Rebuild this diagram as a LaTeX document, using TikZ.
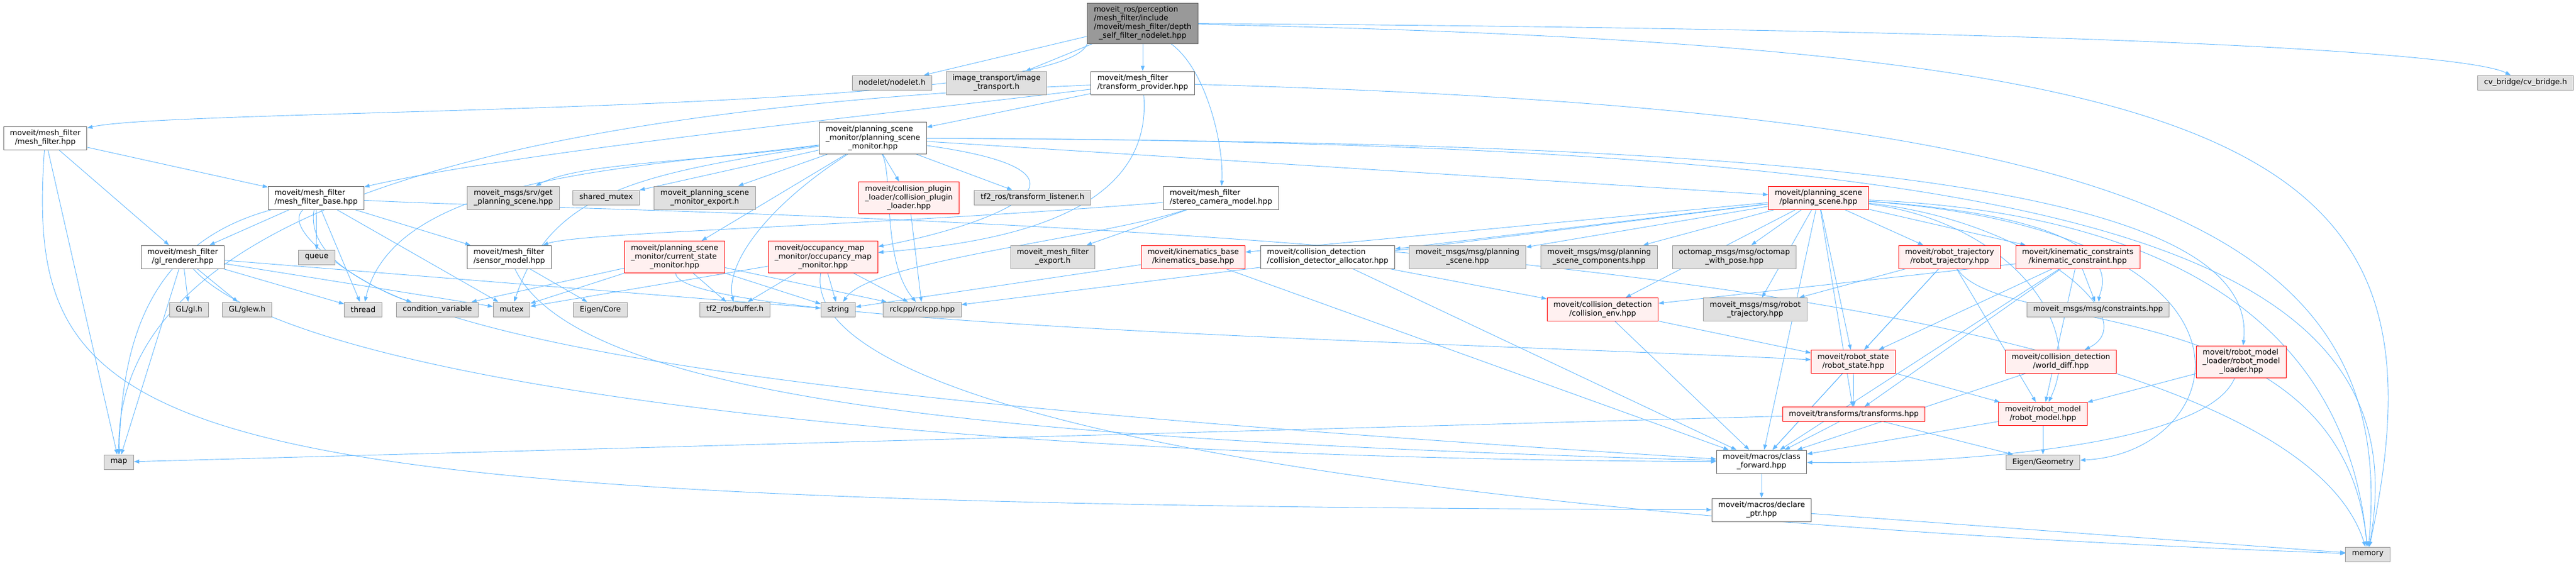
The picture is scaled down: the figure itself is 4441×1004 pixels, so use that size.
\documentclass[tikz,border=0pt]{standalone}
\usepackage{fontspec}
\setmainfont{DejaVu Sans}
\usetikzlibrary{arrows.meta}
\definecolor{edgeblue}{HTML}{63B8FF}
\definecolor{docline}{HTML}{666666}
\definecolor{extfill}{HTML}{E0E0E0}
\definecolor{extline}{HTML}{999999}
\definecolor{redfill}{HTML}{FFF0F0}
\definecolor{rootfill}{HTML}{999999}
\pgfdeclarelayer{edges}
\pgfsetlayers{edges,main}
% left lines, then a centred last line
\newcommand{\flbl}[2]{\begin{tabular}{@{}l@{}}#1\\\multicolumn{1}{@{}c@{}}{#2}\end{tabular}}
\begin{document}
\begin{tikzpicture}[x=1pt,y=-1pt,line join=round,>={Triangle[length=9pt,width=6.5pt]},
    font=\fontsize{13}{15}\selectfont,
    filebox/.style={draw,line width=1pt,inner xsep=11pt,inner ysep=5pt,minimum height=25pt},
    docbox/.style={filebox,draw=docline,fill=white},
    extbox/.style={filebox,draw=extline,fill=extfill},
    redbox/.style={filebox,draw=red,fill=redfill},
    rootbox/.style={filebox,draw=docline,fill=rootfill},
    dep/.style={->,draw=edgeblue,line width=0.9pt}]
\useasboundingbox (0,0) rectangle (4441,1004);
\node[rootbox] (root) at (1970,40) {\flbl{moveit\_ros/perception\\/mesh\_filter/include\\/moveit/mesh\_filter/depth}{\_self\_filter\_nodelet.hpp}};
\node[extbox] (nodelet) at (1538,142.5) {nodelet/nodelet.h};
\node[extbox] (imgtr) at (1718,143) {\flbl{image\_transport/image}{\_transport.h}};
\node[docbox] (tprov) at (1970,143) {\flbl{moveit/mesh\_filter}{/transform\_provider.hpp}};
\node[extbox] (cvbr) at (4354,142.5) {cv\_bridge/cv\_bridge.h};
\node[docbox] (mfilter) at (78,238) {\flbl{moveit/mesh\_filter}{/mesh\_filter.hpp}};
\node[docbox] (psm) at (1505,238) {\flbl{moveit/planning\_scene\\\_monitor/planning\_scene}{\_monitor.hpp}};
\node[docbox] (mfbase) at (545,341) {\flbl{moveit/mesh\_filter}{/mesh\_filter\_base.hpp}};
\node[extbox] (getps) at (885,341) {\flbl{moveit\_msgs/srv/get}{\_planning\_scene.hpp}};
\node[extbox] (shmutex) at (1045,340.5) {shared\_mutex};
\node[extbox] (psmexp) at (1215,341) {\flbl{moveit\_planning\_scene}{\_monitor\_export.h}};
\node[redbox] (cpl) at (1567,341) {\flbl{moveit/collision\_plugin\\\_loader/collision\_plugin}{\_loader.hpp}};
\node[extbox] (tflis) at (1780,340.5) {tf2\_ros/transform\_listener.h};
\node[docbox] (stereo) at (2105,341) {\flbl{moveit/mesh\_filter}{/stereo\_camera\_model.hpp}};
\node[redbox] (pscene) at (3135,341) {\flbl{moveit/planning\_scene}{/planning\_scene.hpp}};
\node[docbox] (glr) at (315,443) {\flbl{moveit/mesh\_filter}{/gl\_renderer.hpp}};
\node[extbox] (queue) at (546,443.5) {queue};
\node[docbox] (sensor) at (878,443) {\flbl{moveit/mesh\_filter}{/sensor\_model.hpp}};
\node[redbox] (csm) at (1163,443) {\flbl{moveit/planning\_scene\\\_monitor/current\_state}{\_monitor.hpp}};
\node[redbox] (omm) at (1419,443) {\flbl{moveit/occupancy\_map\\\_monitor/occupancy\_map}{\_monitor.hpp}};
\node[extbox] (mfexp) at (1815,443) {\flbl{moveit\_mesh\_filter}{\_export.h}};
\node[redbox] (kbase) at (2057,443) {\flbl{moveit/kinematics\_base}{/kinematics\_base.hpp}};
\node[docbox] (cdalloc) at (2289,443) {\flbl{moveit/collision\_detection}{/collision\_detector\_allocator.hpp}};
\node[extbox] (msgps) at (2530,443) {\flbl{moveit\_msgs/msg/planning}{\_scene.hpp}};
\node[extbox] (msgpsc) at (2757,443) {\flbl{moveit\_msgs/msg/planning}{\_scene\_components.hpp}};
\node[extbox] (octo) at (2990,443) {\flbl{octomap\_msgs/msg/octomap}{\_with\_pose.hpp}};
\node[redbox] (rtraj) at (3361,443) {\flbl{moveit/robot\_trajectory}{/robot\_trajectory.hpp}};
\node[redbox] (kcons) at (3582,443) {\flbl{moveit/kinematic\_constraints}{/kinematic\_constraint.hpp}};
\node[extbox] (glh) at (326,533.5) {GL/gl.h};
\node[extbox] (glew) at (426,533.5) {GL/glew.h};
\node[extbox] (thread) at (626,533.5) {thread};
\node[extbox] (condvar) at (754,533.5) {condition\_variable};
\node[extbox] (mutex) at (882,533.5) {mutex};
\node[extbox] (eigcore) at (1035,533.5) {Eigen/Core};
\node[extbox] (tfbuf) at (1267,533.5) {tf2\_ros/buffer.h};
\node[extbox] (string) at (1445,533.5) {string};
\node[extbox] (rclcpp) at (1590,533.5) {rclcpp/rclcpp.hpp};
\node[redbox] (cenv) at (2763,533.5) {\flbl{moveit/collision\_detection}{/collision\_env.hpp}};
\node[extbox] (msgrt) at (3026,533.5) {\flbl{moveit\_msgs/msg/robot}{\_trajectory.hpp}};
\node[extbox] (msgcons) at (3617,533.5) {moveit\_msgs/msg/constraints.hpp};
\node[redbox] (rstate) at (3195,623.5) {\flbl{moveit/robot\_state}{/robot\_state.hpp}};
\node[redbox] (wdiff) at (3553,623.5) {\flbl{moveit/collision\_detection}{/world\_diff.hpp}};
\node[redbox] (rmloader) at (3864,623.5) {\flbl{moveit/robot\_model\\\_loader/robot\_model}{\_loader.hpp}};
\node[redbox] (transforms) at (3196,714) {moveit/transforms/transforms.hpp};
\node[redbox] (rmodel) at (3522,713.5) {\flbl{moveit/robot\_model}{/robot\_model.hpp}};
\node[extbox] (map) at (205,796.5) {map};
\node[docbox] (classfwd) at (3037,796) {\flbl{moveit/macros/class}{\_forward.hpp}};
\node[extbox] (eiggeo) at (3522,796.5) {Eigen/Geometry};
\node[docbox] (declptr) at (3037,879) {\flbl{moveit/macros/declare}{\_ptr.hpp}};
\node[extbox] (memory) at (4082,955.5) {memory};
\begin{pgfonlayer}{edges}
% root file
\draw[dep] (root) -- (nodelet);
\draw[dep] (root) -- (imgtr);
\draw[dep] (root) -- (tprov);
\draw[dep] (root.south west) .. controls (1830,200) and (300,185) .. (mfilter);
\draw[dep] (root) .. controls (2080,120) and (2110,250) .. (stereo);
\draw[dep] (root) .. controls (3600,50) and (4250,90) .. (cvbr);
\draw[dep] (root) .. controls (3900,80) and (4233,250) .. (memory);
% mesh_filter headers
\draw[dep] (tprov) -- (psm);
\draw[dep] (tprov) .. controls (1500,200) and (900,260) .. (mfbase);
\draw[dep] (tprov) .. controls (700,195) and (200,420) .. (map);
\draw[dep] (tprov) .. controls (1990,380) and (1700,420) .. (omm);
\draw[dep] (tprov) .. controls (3700,190) and (4134,400) .. (memory);
\draw[dep] (mfilter) -- (mfbase);
\draw[dep] (mfilter) -- (glr);
\draw[dep] (mfilter) -- (map);
\draw[dep] (mfilter) .. controls (40,780) and (250,870) .. (declptr);
\draw[dep] (mfbase) -- (glr);
\draw[dep] (mfbase) -- (queue);
\draw[dep] (mfbase) -- (sensor);
\draw[dep] (mfbase) -- (thread);
\draw[dep] (mfbase) -- (mutex);
\draw[dep] (mfbase) .. controls (480,400) and (640,500) .. (condvar);
\draw[dep] (mfbase) .. controls (250,420) and (210,600) .. (map);
\draw[dep] (mfbase) .. controls (1200,375) and (3900,380) .. (memory);
\draw[dep] (mfbase) .. controls (500,600) and (1500,700) .. (classfwd);
\draw[dep] (glr) -- (glh);
\draw[dep] (glr) -- (glew);
\draw[dep] (glr) -- (thread);
\draw[dep] (glr) -- (mutex);
\draw[dep] (glr) -- (string);
\draw[dep] (glr) -- (map);
\draw[dep] (glr) .. controls (500,650) and (1500,790) .. (classfwd);
\draw[dep] (sensor) -- (eigcore);
\draw[dep] (sensor) .. controls (1000,700) and (1800,760) .. (classfwd);
\draw[dep] (stereo) .. controls (1500,390) and (1000,400) .. (sensor);
\draw[dep] (stereo) -- (mfexp);
\draw[dep] (stereo) .. controls (1900,410) and (1500,450) .. (string);
% planning scene monitor
\draw[dep] (psm) .. controls (1200,280) and (1000,280) .. (getps);
\draw[dep] (psm) -- (shmutex);
\draw[dep] (psm) -- (psmexp);
\draw[dep] (psm) -- (cpl);
\draw[dep] (psm) -- (tflis);
\draw[dep] (psm) -- (csm);
\draw[dep] (psm) .. controls (1950,300) and (1700,390) .. (omm);
\draw[dep] (psm) .. controls (1330,350) and (1250,450) .. (tfbuf);
\draw[dep] (psm) .. controls (1540,300) and (1520,450) .. (rclcpp);
\draw[dep] (psm) .. controls (1100,290) and (680,300) .. (thread);
\draw[dep] (psm) .. controls (1100,300) and (950,330) .. (mutex);
\draw[dep] (psm) -- (pscene);
\draw[dep] (psm) .. controls (3000,245) and (3900,300) .. (rmloader);
\draw[dep] (psm) .. controls (3500,245) and (4183,400) .. (memory);
\draw[dep] (cpl) -- (rclcpp);
\draw[dep] (csm) -- (condvar);
\draw[dep] (csm) -- (mutex);
\draw[dep] (csm) -- (tfbuf);
\draw[dep] (csm) -- (string);
\draw[dep] (csm) -- (rclcpp);
\draw[dep] (csm) .. controls (1170,560) and (2500,590) .. (rstate);
\draw[dep] (omm) -- (mutex);
\draw[dep] (omm) -- (tfbuf);
\draw[dep] (omm) -- (string);
\draw[dep] (omm) -- (rclcpp);
\draw[dep] (omm) .. controls (1380,700) and (2300,890) .. (memory);
\draw[dep] (kbase) -- (string);
\draw[dep] (kbase) -- (classfwd);
\draw[dep] (cdalloc) -- (cenv);
\draw[dep] (cdalloc) -- (classfwd);
% planning scene
\draw[dep] (pscene) -- (kbase);
\draw[dep] (pscene) -- (cdalloc);
\draw[dep] (pscene) -- (msgps);
\draw[dep] (pscene) -- (msgpsc);
\draw[dep] (pscene) -- (octo);
\draw[dep] (pscene) -- (rtraj);
\draw[dep] (pscene) -- (kcons);
\draw[dep] (pscene) -- (cenv);
\draw[dep] (pscene) -- (msgrt);
\draw[dep] (pscene) -- (rstate);
\draw[dep] (pscene) -- (transforms);
\draw[dep] (pscene) -- (classfwd);
\draw[dep] (pscene) .. controls (3500,380) and (3700,550) .. (wdiff);
\draw[dep] (pscene) .. controls (3450,380) and (3600,550) .. (rmodel);
\draw[dep] (pscene) .. controls (3700,380) and (3620,500) .. (msgcons);
\draw[dep] (pscene) .. controls (3950,400) and (3850,780) .. (eiggeo);
\draw[dep] (pscene) .. controls (3800,370) and (4050,600) .. (memory);
\draw[dep] (pscene) -- (rclcpp);
\draw[dep] (rtraj) -- (msgrt);
\draw[dep] (rtraj) -- (rstate);
\draw[dep] (rtraj) -- (rmodel);
\draw[dep] (rtraj) -- (classfwd);
\draw[dep] (rtraj) .. controls (3450,580) and (4040,500) .. (memory);
\draw[dep] (kcons) -- (msgcons);
\draw[dep] (kcons) -- (rstate);
\draw[dep] (kcons) -- (rmodel);
\draw[dep] (kcons) -- (transforms);
\draw[dep] (kcons) -- (classfwd);
\draw[dep] (kcons) -- (cenv);
\draw[dep] (cenv) -- (rstate);
\draw[dep] (cenv) -- (classfwd);
% robot model and macros
\draw[dep] (rstate) -- (transforms);
\draw[dep] (rstate) -- (rmodel);
\draw[dep] (rstate) -- (classfwd);
\draw[dep] (wdiff) -- (classfwd);
\draw[dep] (rmloader) -- (rmodel);
\draw[dep] (rmloader) .. controls (3800,780) and (3300,800) .. (classfwd);
\draw[dep] (transforms) -- (classfwd);
\draw[dep] (transforms) -- (eiggeo);
\draw[dep] (transforms) -- (map);
\draw[dep] (rmodel) -- (eiggeo);
\draw[dep] (rmodel) -- (classfwd);
\draw[dep] (classfwd) -- (declptr);
\draw[dep] (declptr) -- (memory);
\end{pgfonlayer}
\end{tikzpicture}
\end{document}
